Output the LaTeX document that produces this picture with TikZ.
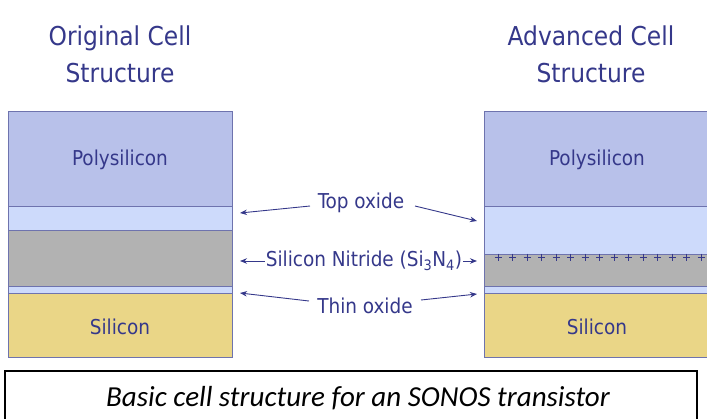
\documentclass[tikz,border=0pt]{standalone}
\usepackage{fontspec}
\setmainfont{DejaVu Sans Condensed}
\newfontfamily\capfont{Carlito}
\usetikzlibrary{arrows.meta}
\definecolor{ink}{HTML}{35388A}
\definecolor{edge}{HTML}{6E73AE}
\definecolor{poly}{HTML}{B8C1EA}
\definecolor{oxide}{HTML}{CDDAFB}
\definecolor{nitride}{HTML}{B2B2B2}
\definecolor{silicon}{HTML}{EAD687}
\tikzset{
  layer/.style={draw=edge, line width=1pt, inner sep=0pt, anchor=north west},
  lbl/.style={text=ink, font=\fontsize{20.5}{24}\selectfont, inner sep=1pt},
  ttl/.style={text=ink, font=\fontsize{26}{37}\selectfont, align=center},
  pointer/.style={draw=ink, line width=0.9pt, -{Stealth[length=7pt,width=5.5pt]}},
  charge/.style={draw=ink, line width=1pt}
}
\begin{document}
\begin{tikzpicture}[x=1pt,y=-1pt]
\useasboundingbox (0,0) rectangle (707,418);
\begin{scope}
\clip (0,0) rectangle (707,418);
% titles
\node[ttl] (t1) at (120,54) {Original Cell\\Structure};
\node[ttl] (t2) at (591,54) {Advanced Cell\\Structure};

% original stack
\node[layer, fill=poly,    minimum width=224pt, minimum height=95pt] (polyL) at (8,111) {};
\node[layer, fill=oxide,   minimum width=224pt, minimum height=24pt] (topL)  at (8,206) {};
\node[layer, fill=nitride, minimum width=224pt, minimum height=56pt] (nitL)  at (8,230) {};
\node[layer, fill=oxide,   minimum width=224pt, minimum height=7pt]  (thinL) at (8,286) {};
\node[layer, fill=silicon, minimum width=224pt, minimum height=64pt] (siL)   at (8,293) {};
\node[lbl] at (120,160) {Polysilicon};
\node[lbl] at (120,327) {Silicon};

% advanced stack
\node[layer, fill=poly,    minimum width=230pt, minimum height=95pt] (polyR) at (484,111) {};
\node[layer, fill=oxide,   minimum width=230pt, minimum height=48pt] (topR)  at (484,206) {};
\node[layer, fill=nitride, minimum width=230pt, minimum height=32pt] (nitR)  at (484,254) {};
\node[layer, fill=oxide,   minimum width=230pt, minimum height=7pt]  (thinR) at (484,286) {};
\node[layer, fill=silicon, minimum width=230pt, minimum height=64pt] (siR)   at (484,293) {};
\node[lbl] at (597,160) {Polysilicon};
\node[lbl] at (597,327) {Silicon};

% trapped charge along the nitride top
\foreach \i in {0,...,14}{
  \draw[charge] (498+\i*14.5-3.5,257) -- ++(7,0);
  \draw[charge] (498+\i*14.5,253.5) -- ++(0,7);
}
\end{scope}

% layer names in the middle
\node[lbl] (lTop)  at (361,203) {Top oxide};
\node[lbl] (lNit)  at (364,261) {Silicon Nitride (Si\textsubscript{3}N\textsubscript{4})};
\node[lbl] (lThin) at (365,306) {Thin oxide};

\coordinate (aTopL)  at (240,213);
\coordinate (aTopR)  at (477,221);
\coordinate (aNitL)  at (240,261);
\coordinate (aNitR)  at (477,261);
\coordinate (aThinL) at (240,293);
\coordinate (aThinR) at (477,294);

\draw[pointer] (310,206) -- (aTopL);
\draw[pointer] (415,206) -- (aTopR);
\draw[pointer] (lNit.west) -- (aNitL);
\draw[pointer] (lNit.east) -- (aNitR);
\draw[pointer] (309,301) -- (aThinL);
\draw[pointer] (421,300) -- (aThinR);

% caption
\draw[black, line width=1.8pt] (5,440) -- (5,371) -- (697,371) -- (697,440);
\node[font=\capfont\itshape\fontsize{29}{32}\selectfont] (cap) at (358,398) {Basic cell structure for an SONOS transistor};
\end{tikzpicture}
\end{document}
